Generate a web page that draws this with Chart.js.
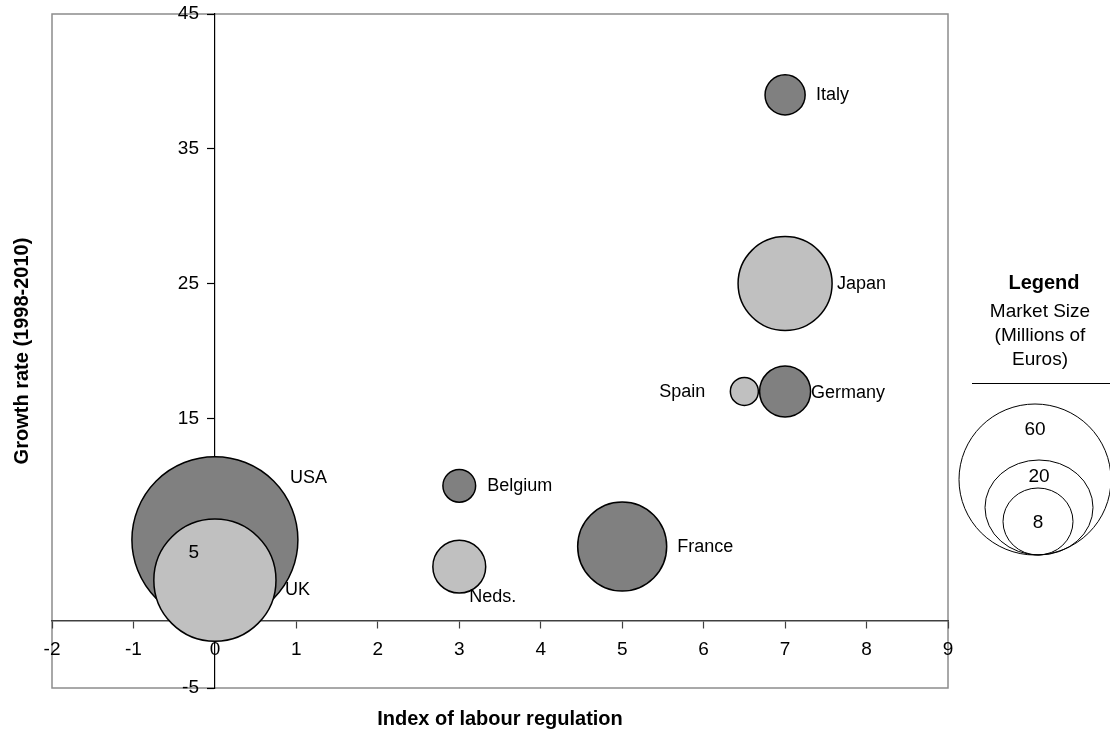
<!DOCTYPE html>
<html>
<head>
<meta charset="utf-8">
<title>Growth rate vs index of labour regulation</title>
<script src="https://cdn.jsdelivr.net/npm/chart.js@4.4.1/dist/chart.umd.min.js"></script>
<style>
  html, body { margin: 0; padding: 0; background: #fff; }
  #wrap { width: 1110px; height: 734px; }
</style>
</head>
<body>
<div id="wrap"><canvas id="bubble-chart" width="1110" height="734"></canvas></div>
<script>
// Data
const countries   = ['USA', 'UK', 'Belgium', 'Neds.', 'France', 'Spain', 'Germany', 'Japan', 'Italy'];
const labourIndex = [0, 0, 3, 3, 5, 6.5, 7, 7, 7];
const growthRate  = [6, 3, 10, 4, 5.5, 17, 17, 25, 39];
const marketSize  = [72, 39, 2.8, 7.3, 20.7, 2.05, 6.8, 23.1, 4.2];
const group       = ['dark', 'light', 'dark', 'light', 'dark', 'light', 'dark', 'light', 'dark'];

const xTickValues = [-2, -1, 0, 1, 2, 3, 4, 5, 6, 7, 8, 9];
const yTickValues = [-5, 5, 15, 25, 35, 45];
const legendTitle = 'Legend';
const legendLines = ['Market Size', '(Millions of', 'Euros)'];
const legendSizes = ['60', '20', '8'];

// Styling
const FONT = '"Liberation Sans", Arial, sans-serif';
const R_MAX = 83; // radius of the biggest bubble, px
const groupColors = { dark: '#808080', light: '#c0c0c0' };

// label offset from bubble centre: [dx, dy, align]
const labelPlacement = [
    [75, -62, 'left'],
    [70, 10, 'left'],
    [28, 0, 'left'],
    [10, 30, 'left'],
    [55, 1, 'left'],
    [-39, 1, 'right'],
    [26, 2, 'left'],
    [52, 0, 'left'],
    [31, 0, 'left']
];

const maxSize = Math.max(...marketSize);
const bubbles = countries.map((c, i) => ({
    x: labourIndex[i],
    y: growthRate[i],
    r: R_MAX * Math.sqrt(marketSize[i] / maxSize)
}));

function setTicks(values) {
    return scale => { scale.ticks = values.map(v => ({ value: v })); };
}
function noPadding(scale) {
    scale.paddingTop = scale.paddingBottom = scale.paddingLeft = scale.paddingRight = 0;
}

// Plot area frame
const plotFrame = {
    id: 'plotFrame',
    beforeDraw(chart) {
        const { ctx, chartArea: a } = chart;
        ctx.save();
        ctx.strokeStyle = '#8c8c8c';
        ctx.lineWidth = 1.5;
        ctx.strokeRect(a.left, a.top, a.right - a.left, a.bottom - a.top);
        ctx.restore();
    }
};

// Country names beside the bubbles
const countryLabels = {
    id: 'countryLabels',
    afterDatasetsDraw(chart) {
        const { ctx } = chart;
        const meta = chart.getDatasetMeta(0);
        ctx.save();
        ctx.font = '18px ' + FONT;
        ctx.fillStyle = '#000';
        ctx.textBaseline = 'middle';
        meta.data.forEach((pt, i) => {
            const [dx, dy, align] = labelPlacement[i];
            ctx.textAlign = align;
            ctx.fillText(countries[i], pt.x + dx, pt.y + dy);
        });
        ctx.restore();
    }
};

// Size legend on the right
const sizeLegend = {
    id: 'sizeLegend',
    afterDraw(chart) {
        const { ctx } = chart;
        ctx.save();
        ctx.fillStyle = '#000';
        ctx.textAlign = 'center';
        ctx.textBaseline = 'middle';
        ctx.font = 'bold 20px ' + FONT;
        ctx.fillText(legendTitle, 1044, 283);
        ctx.font = '19px ' + FONT;
        legendLines.forEach((t, i) => ctx.fillText(t, 1040, 312 + i * 24));

        ctx.strokeStyle = '#000';
        ctx.lineWidth = 1;
        ctx.beginPath();
        ctx.moveTo(972, 383.5);
        ctx.lineTo(1110, 383.5);
        ctx.stroke();

        const rings = [[1035, 479.5, 76, 75.5], [1039, 507.5, 54, 47.5], [1038, 521.5, 35, 33.5]];
        const labelY = [430, 477, 523];
        rings.forEach(([cx, cy, rx, ry], i) => {
            ctx.beginPath();
            ctx.ellipse(cx, cy, rx, ry, 0, 0, Math.PI * 2);
            ctx.stroke();
            ctx.fillText(legendSizes[i], cx, labelY[i]);
        });
        ctx.restore();
    }
};

let chart;

function initChart() {
    const ctx = document.getElementById('bubble-chart').getContext('2d');
    Chart.defaults.font.family = FONT;
    Chart.defaults.color = '#000';

    chart = new Chart(ctx, {
        type: 'bubble',
        data: {
            datasets: [{
                label: 'Market size',
                data: bubbles,
                xAxisID: 'x',
                yAxisID: 'y',
                backgroundColor: group.map(g => groupColors[g]),
                borderColor: '#000',
                borderWidth: 1.5
            }]
        },
        options: {
            responsive: false,
            devicePixelRatio: 1,
            animation: false,
            events: [],
            layout: { autoPadding: false, padding: { top: 14, right: 162, bottom: 0, left: 0 } },
            plugins: {
                legend: { display: false },
                tooltip: { enabled: false }
            },
            scales: {
                x: {
                    type: 'linear',
                    min: -2,
                    max: 9,
                    position: { y: 0 },
                    afterBuildTicks: setTicks(xTickValues),
                    afterFit: noPadding,
                    ticks: { font: { size: 19 }, padding: 11 },
                    grid: { drawOnChartArea: false, tickLength: 7, tickColor: '#404040', tickWidth: 1.2 },
                    border: { color: '#404040', width: 1.5 }
                },
                y: {
                    type: 'linear',
                    min: -5,
                    max: 45,
                    position: { x: 0 },
                    afterBuildTicks: setTicks(yTickValues),
                    afterFit: noPadding,
                    ticks: { display: false },
                    grid: { drawOnChartArea: false, tickLength: 7, tickColor: '#000', tickWidth: 1.2 },
                    border: { color: '#000', width: 1.2 }
                },
                // y tick labels drawn over the bubbles, right-aligned just left of the tick marks
                yLabels: {
                    axis: 'y',
                    type: 'linear',
                    min: -5,
                    max: 45,
                    position: { x: -0.196 },
                    afterBuildTicks: setTicks(yTickValues),
                    afterFit: noPadding,
                    ticks: { font: { size: 19 }, padding: 0, z: 1 },
                    grid: { display: false, drawTicks: false },
                    border: { display: false }
                },
                // axis titles
                xTitle: {
                    axis: 'x',
                    type: 'linear',
                    position: 'bottom',
                    afterFit: s => { s.height = 46; noPadding(s); },
                    ticks: { display: false },
                    grid: { display: false },
                    border: { display: false },
                    title: {
                        display: true,
                        text: 'Index of labour regulation',
                        font: { size: 20, weight: 'bold' },
                        padding: { top: 0, bottom: 3 }
                    }
                },
                yTitle: {
                    axis: 'y',
                    type: 'linear',
                    position: 'left',
                    afterFit: s => { s.width = 52; noPadding(s); },
                    ticks: { display: false },
                    grid: { display: false },
                    border: { display: false },
                    title: {
                        display: true,
                        text: 'Growth rate (1998-2010)',
                        font: { size: 20, weight: 'bold' },
                        padding: { top: 10, bottom: 0 }
                    }
                }
            }
        },
        plugins: [plotFrame, countryLabels, sizeLegend]
    });
}

document.addEventListener('DOMContentLoaded', initChart);
</script>
</body>
</html>
